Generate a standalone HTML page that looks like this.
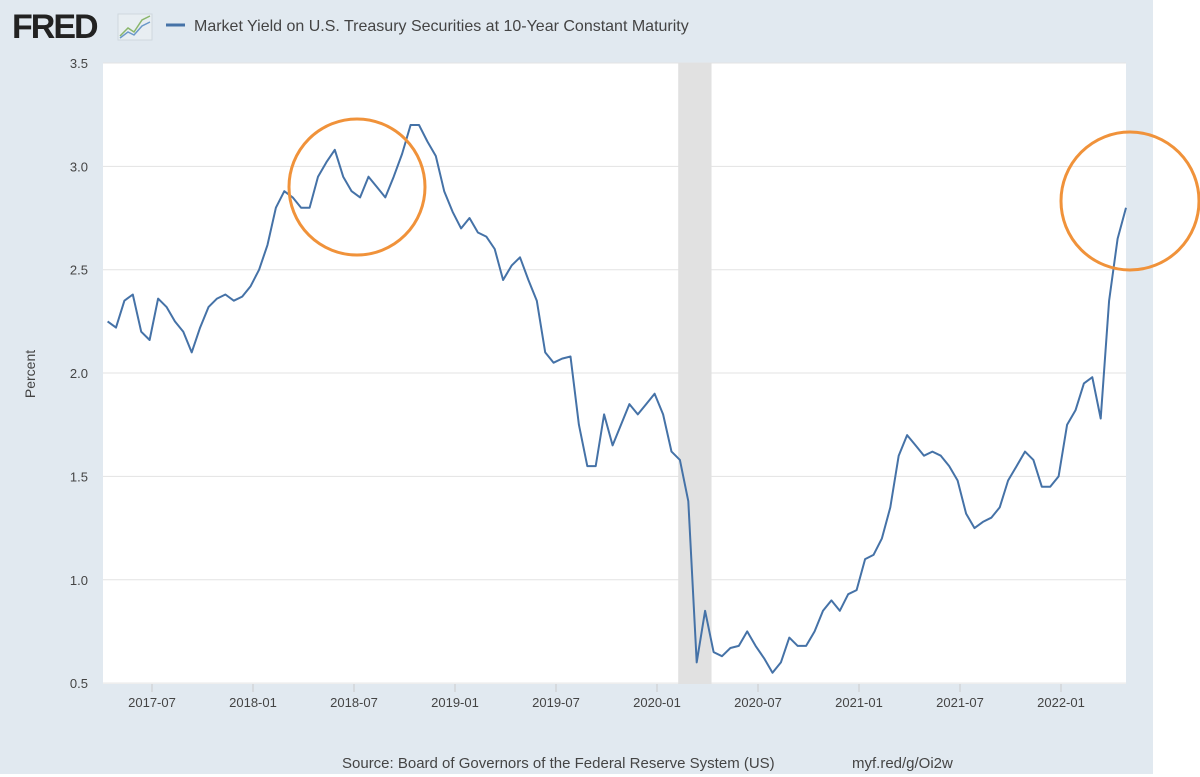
<!DOCTYPE html>
<html><head><meta charset="utf-8"><style>
body{margin:0;background:#fff;font-family:"Liberation Sans","DejaVu Sans",sans-serif}
svg{display:block}
</style></head><body>
<svg width="1200" height="777">
<rect x="0" y="0" width="1153" height="774" fill="#e1e9f0"/>
<rect x="103" y="63" width="1023" height="621" fill="#ffffff"/>
<g>
<text x="12" y="38" font-size="34" font-weight="bold" fill="#222" letter-spacing="-2">FRED</text>
<rect x="118" y="14" width="34" height="26" fill="#e8eef2" stroke="#cfd8de"/>
<polyline points="120,36 128,28 134,32 142,20 150,16" fill="none" stroke="#8ab66b" stroke-width="1.5"/>
<polyline points="120,38 128,32 134,35 142,26 150,22" fill="none" stroke="#6a98c8" stroke-width="1.5"/>
</g>
<line x1="166" y1="25" x2="185" y2="25" stroke="#4572a7" stroke-width="3"/>
<text x="194" y="31" font-size="16" fill="#444">Market Yield on U.S. Treasury Securities at 10-Year Constant Maturity</text>
<g id="grid"></g>
<g id="xaxis"></g>
<g id="band"></g>
<g id="series"></g>
<text transform="translate(35,374) rotate(-90)" text-anchor="middle" font-size="14" fill="#444">Percent</text>
<circle cx="357" cy="187" r="68" fill="none" stroke="#f0923a" stroke-width="3"/>
<circle cx="1130" cy="201" r="69" fill="none" stroke="#f0923a" stroke-width="3"/>
<text x="342" y="768" font-size="15" fill="#444">Source: Board of Governors of the Federal Reserve System (US)</text>
<text x="852" y="768" font-size="15" fill="#444">myf.red/g/Oi2w</text>
</svg>
<script>
const yTicks=[0.5,1.0,1.5,2.0,2.5,3.0,3.5];
const xTickLabels=["2017-07","2018-01","2018-07","2019-01","2019-07","2020-01","2020-07","2021-01","2021-07","2022-01"];
const xTickYears=[2017.5,2018.0,2018.5,2019.0,2019.5,2020.0,2020.5,2021.0,2021.5,2022.0];
const recession=[2020.105,2020.27];
const startYear=2017.28;
const stepYears=1/24;
const yields=[
2.25,2.22,2.35,2.38,2.20,2.16,2.36,2.32,2.25,2.20,2.10,2.22,2.32,2.36,2.38,2.35,2.37,2.42,
2.50,2.62,2.80,2.88,2.85,2.80,2.80,2.95,3.02,3.08,2.95,2.88,2.85,2.95,2.90,2.85,2.95,3.06,3.20,3.20,3.12,3.05,2.88,2.78,
2.70,2.75,2.68,2.66,2.60,2.45,2.52,2.56,2.45,2.35,2.10,2.05,2.07,2.08,1.75,1.55,1.55,1.80,1.65,1.75,1.85,1.80,1.85,1.90,
1.80,1.62,1.58,1.38,0.60,0.85,0.65,0.63,0.67,0.68,0.75,0.68,0.62,0.55,0.60,0.72,0.68,0.68,0.75,0.85,0.90,0.85,0.93,0.95,
1.10,1.12,1.20,1.35,1.60,1.70,1.65,1.60,1.62,1.60,1.55,1.48,1.32,1.25,1.28,1.30,1.35,1.48,1.55,1.62,1.58,1.45,1.45,1.50,
1.75,1.82,1.95,1.98,1.78,2.35,2.65,2.80];
const NS="http://www.w3.org/2000/svg";
function xs(t){return 253+(t-2018.0)*202;}
function ys(v){return 63+(3.5-v)*206.7;}
function mk(tag,attrs,parent){const e=document.createElementNS(NS,tag);for(const k in attrs)e.setAttribute(k,attrs[k]);parent.appendChild(e);return e;}
const grid=document.getElementById('grid');
yTicks.forEach(v=>{
  const l=mk('line',{x1:103,x2:1126,y1:ys(v),y2:ys(v),stroke:'#e3e3e3','stroke-width':1},grid);
  
  
  const t=mk('text',{x:88,y:ys(v)+5,'text-anchor':'end','font-size':13,fill:'#444'},grid);
  t.textContent=v.toFixed(1);
  
  
});
const xa=document.getElementById('xaxis');
xTickYears.forEach((y,i)=>{
  const l=mk('line',{x1:xs(y),x2:xs(y),y1:684,y2:692,stroke:'#ccc'},xa);
  
  
  const t=mk('text',{x:xs(y),y:707,'text-anchor':'middle','font-size':13,fill:'#444'},xa);
  t.textContent=xTickLabels[i];
  
  
});
const b=mk('rect',{x:xs(recession[0]),y:63,width:xs(recession[1])-xs(recession[0]),height:621,fill:'#e1e1e1'},document.getElementById('band'));


const pts=yields.map((v,i)=>xs(startYear+i*stepYears).toFixed(1)+','+ys(v).toFixed(1)).join(' ');
const pl=mk('polyline',{points:pts,fill:'none',stroke:'#4572a7','stroke-width':2,'stroke-linejoin':'round'},document.getElementById('series'));


</script>
</body></html>
